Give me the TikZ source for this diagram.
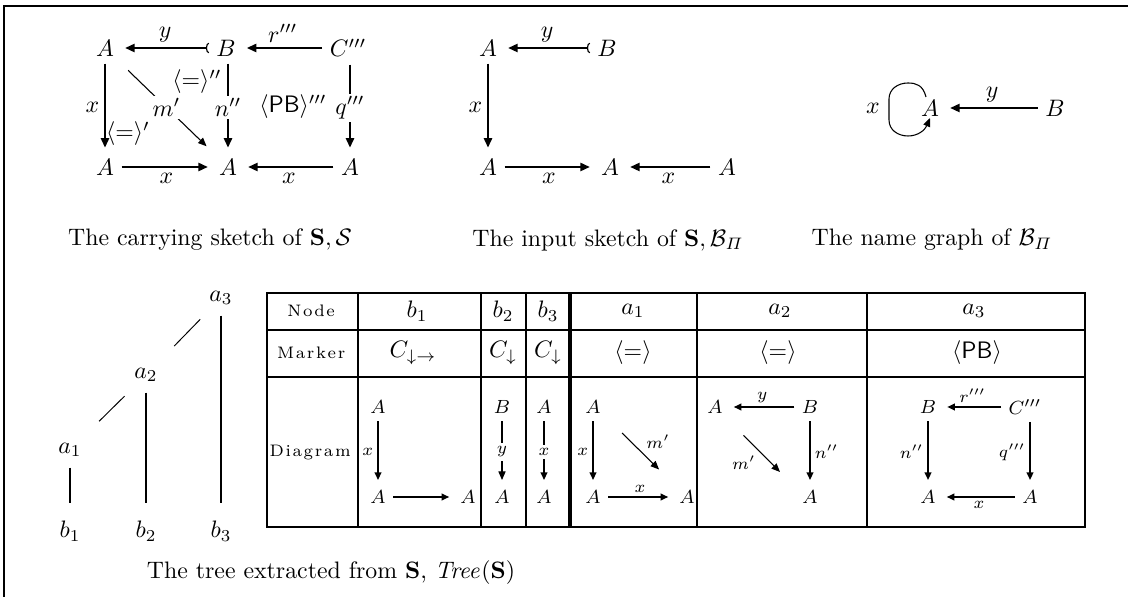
\documentclass[tikz,border=0pt]{standalone}
\usepackage[no-math]{fontspec}
\usepackage{amsmath}
\usetikzlibrary{arrows.meta}

% letter-spaced row headers of the table
\def\hdrtext#1{\hdrtextaux#1\relax}
\def\hdrtextaux#1{\ifx#1\relax\else#1\kern0.7pt\expandafter\hdrtextaux\fi}

\begin{document}
\begin{tikzpicture}[
			x=4.2pt, y=-4.2pt,
			every node/.style={font=\normalsize},
			obj/.style={inner sep=3pt},
			sobj/.style={inner sep=3pt, font=\footnotesize},
			lab/.style={inner sep=2pt},
			slab/.style={inner sep=1.5pt, font=\scriptsize},
			gap/.style={fill=white, inner sep=1pt},
			arr/.style={line width=0.9pt, shorten >=1.5pt, -{Triangle[length=4pt,width=3.4pt]}},
			monoarr/.style={line width=0.9pt, shorten >=1.5pt, {Arc Barb[reversed,length=1.2pt,width=4.5pt,line width=0.5pt]}-{Triangle[length=4pt,width=3.4pt]}},
			thinarr/.style={line width=0.45pt, -{Triangle[length=3.6pt,width=3pt]}},
			sarr/.style={line width=0.7pt, shorten >=1.5pt, -{Triangle[length=3.2pt,width=2.8pt]}},
			svarr/.style={line width=1pt, shorten >=1.2pt, -{Triangle[length=3.2pt,width=2.8pt]}},
			head/.style={inner sep=0pt, font=\scriptsize},
			rule/.style={line width=0.85pt}
			]
			\useasboundingbox (0,0) rectangle (112.8,59.7);
			
			% Frame
			\draw[rule] (0.4,59.7) -- (0.4,0.6) -- (112.8,0.6);
			
			% The carrying sketch
			\node (cA1) [obj] at (10.5,4.8) {$A$};
			\node (cB) [obj] at (22.6,4.8) {$B$};
			\node (cC) [obj] at (34.8,4.8) {$C'''$};
			\node (cA2) [obj] at (10.5,16.7) {$A$};
			\node (cA3) [obj] at (22.8,16.7) {$A$};
			\node (cA4) [obj] at (35.0,16.7) {$A$};
			\draw[monoarr] (cB) -- node[lab, above] {$y$} (cA1);
			\draw[arr] (cC) -- node[lab, above] {$r'''$} (cB);
			\draw[arr] (cA1) -- node[lab, left] {$x$} (cA2);
			\draw[arr] (cB.south -| cA3) -- node[gap] {$n''$} (cA3);
			\draw[arr] (cC.south -| cA4) -- node[gap] {$q'''$} (cA4);
			\draw[arr] (cA2) -- node[lab, below] {$x$} (cA3);
			\draw[arr] (cA4) -- node[lab, below] {$x$} (cA3);
			\draw[thinarr, shorten <=4pt, shorten >=3pt] (cA1) -- node[gap] {$m'$} (cA3);
			\node (cEq1) at (12.8,13.4) {$\langle\textsf{=}\rangle'$};
			\node (cEq2) at (19.7,8.2) {$\langle\textsf{=}\rangle''$};
			\node (cPB) at (29.3,10.7) {$\langle\textsf{PB}\rangle'''$};
			\node (cCap) at (21.0,24.0) {The carrying sketch of $\mathbf{S},\mathcal{S}$};
			
			% The input sketch
			\node (iA1) [obj] at (48.8,4.8) {$A$};
			\node (iB) [obj] at (60.7,4.8) {$B$};
			\node (iA2) [obj] at (48.8,16.7) {$A$};
			\node (iA3) [obj] at (61.0,16.7) {$A$};
			\node (iA4) [obj] at (72.7,16.7) {$A$};
			\draw[monoarr] (iB) -- node[lab, above] {$y$} (iA1);
			\draw[arr] (iA1) -- node[lab, left] {$x$} (iA2);
			\draw[arr] (iA2) -- node[lab, below] {$x$} (iA3);
			\draw[arr] (iA4) -- node[lab, below] {$x$} (iA3);
			\node (iCap) at (60.8,24.0) {The input sketch of $\mathbf{S},\mathcal{B}_{\varPi}$};
			
			% The name graph
			\node (nA) [obj] at (93.0,10.8) {$A$};
			\node (nB) [obj] at (105.5,10.8) {$B$};
			\draw[arr] (nB) -- node[lab, above] {$y$} (nA);
			\draw[thinarr] ([shift={(-0.4,-1.1)}]nA.center) .. controls (92.3,8.5) and (91.6,8.3) .. (90.8,8.3)
				.. controls (89.8,8.3) and (88.9,8.9) .. (88.9,9.9) -- (88.9,12.0)
				.. controls (88.9,13.0) and (89.8,13.6) .. (90.8,13.6)
				.. controls (91.8,13.6) and (92.5,13.0) .. ([shift={(0,1.0)}]nA.center);
			\node (nX) at (87.3,10.8) {$x$};
			\node (nCap) at (93.2,24.0) {The name graph of $\mathcal{B}_{\varPi}$};
			
			% The tree
			\node (ta3) at (22.1,29.8) {$a_3$};
			\node (ta2) at (14.6,37.5) {$a_2$};
			\node (ta1) at (7.0,45.0) {$a_1$};
			\node (tb1) at (7.0,53.1) {$b_1$};
			\node (tb2) at (14.6,53.1) {$b_2$};
			\node (tb3) at (22.1,53.1) {$b_3$};
			\draw[thin, shorten <=3.5pt, shorten >=8pt] (ta3) -- (ta2);
			\draw[thin, shorten <=3.5pt, shorten >=8pt] (ta2) -- (ta1);
			\draw[line width=0.9pt, shorten <=1pt, shorten >=4pt] (ta1) -- (tb1);
			\draw[line width=0.9pt, shorten <=1pt, shorten >=4pt] (ta2) -- (tb2);
			\draw[line width=0.9pt, shorten <=1pt, shorten >=4pt] (ta3) -- (tb3);
			\node (tCap) at (33.1,57.3) {The tree extracted from $\mathbf{S}$, $\mathit{Tree}(\mathbf{S})$};
			
			% The table
			\draw[rule] (26.7,29.3) rectangle (108.5,52.7);
			\draw[rule] (26.7,33.0) -- (108.5,33.0);
			\draw[rule] (26.7,37.7) -- (108.5,37.7);
			\draw[rule] (35.8,29.3) -- (35.8,52.7);
			\draw[rule] (48.1,29.3) -- (48.1,52.7);
			\draw[rule] (52.6,29.3) -- (52.6,52.7);
			\draw[line width=1.5pt] (57.0,29.3) -- (57.0,52.7);
			\draw[rule] (69.7,29.3) -- (69.7,52.7);
			\draw[rule] (86.7,29.3) -- (86.7,52.7);
			
			\node (hNode) [head] at (31.2,31.1) {\hdrtext{Node}};
			\node (hb1) at (41.7,31.1) {$b_1$};
			\node (hb2) at (50.3,31.1) {$b_2$};
			\node (hb3) at (54.8,31.1) {$b_3$};
			\node (ha1) at (63.3,31.1) {$a_1$};
			\node (ha2) at (78.0,31.1) {$a_2$};
			\node (ha3) at (97.4,31.1) {$a_3$};
			
			\node (hMarker) [head] at (31.2,35.3) {\hdrtext{Marker}};
			\node (mb1) at (41.3,35.3) {$C_{\downarrow\rightarrow}$};
			\node (mb2) at (50.3,35.3) {$C_{\downarrow}$};
			\node (mb3) at (54.8,35.3) {$C_{\downarrow}$};
			\node (ma1) at (63.3,35.3) {$\langle\textsf{=}\rangle$};
			\node (ma2) at (77.8,35.3) {$\langle\textsf{=}\rangle$};
			\node (ma3) at (97.7,35.3) {$\langle\textsf{PB}\rangle$};
			
			\node (hDiagram) [head] at (31.1,45.3) {\hdrtext{Diagram}};
			
			% b1
			\node (bA1) [sobj] at (37.8,40.7) {$A$};
			\node (bA2) [sobj] at (37.8,49.7) {$A$};
			\node (bA3) [sobj] at (46.8,49.7) {$A$};
			\draw[svarr] (bA1) -- node[slab, left] {$x$} (bA2);
			\draw[sarr] (bA2) -- (bA3);
			
			% b2
			\node (eB) [sobj] at (50.2,40.7) {$B$};
			\node (eA) [sobj] at (50.2,49.7) {$A$};
			\draw[thinarr, shorten >=1.2pt] (eB) -- node[gap, slab] {$y$} (eA);
			
			% b3
			\node (fA1) [sobj] at (54.4,40.7) {$A$};
			\node (fA2) [sobj] at (54.4,49.7) {$A$};
			\draw[svarr] (fA1) -- node[gap, slab] {$x$} (fA2);
			
			% a1
			\node (gA1) [sobj] at (59.3,40.7) {$A$};
			\node (gA2) [sobj] at (59.3,49.7) {$A$};
			\node (gA3) [sobj] at (68.7,49.7) {$A$};
			\coordinate (gM) at (62.2,43.3);
			\draw[svarr] (gA1) -- node[slab, left] {$x$} (gA2);
			\draw[sarr] (gA2) -- node[slab, above] {$x$} (gA3);
			\draw[thinarr, shorten >=8pt] (gM) -- node[slab, pos=0.4, above right] {$m'$} (gA3);
			
			% a2
			\node (hA) [sobj] at (71.5,40.7) {$A$};
			\node (hB) [sobj] at (81.0,40.7) {$B$};
			\node (hA2) [sobj] at (81.0,49.7) {$A$};
			\coordinate (hM) at (78.0,47.2);
			\draw[sarr] (hB) -- node[slab, above] {$y$} (hA);
			\draw[svarr] (hB) -- node[slab, right] {$n''$} (hA2);
			\draw[thinarr, shorten <=8.5pt] (hA) -- node[slab, pos=0.6, below left] {$m'$} (hM);
			
			% a3
			\node (kB) [sobj] at (92.8,40.7) {$B$};
			\node (kC) [sobj] at (102.5,40.7) {$C'''$};
			\node (kA1) [sobj] at (92.8,49.7) {$A$};
			\node (kA2) [sobj] at (103.0,49.7) {$A$};
			\draw[sarr] (kC) -- node[slab, above] {$r'''$} (kB);
			\draw[svarr] (kB) -- node[slab, left] {$n''$} (kA1);
			\draw[svarr] (kC.south -| kA2) -- node[slab, left] {$q'''$} (kA2);
			\draw[sarr] (kA2) -- node[slab, below] {$x$} (kA1);
		\end{tikzpicture}
\end{document}
